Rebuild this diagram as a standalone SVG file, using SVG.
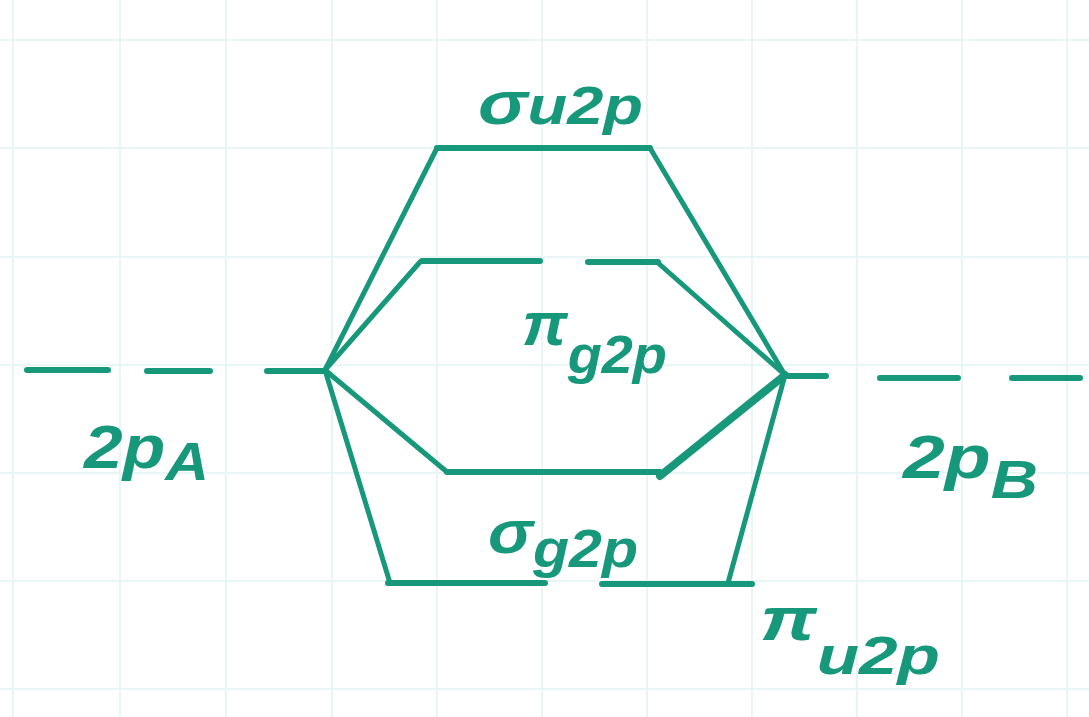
<svg xmlns="http://www.w3.org/2000/svg" width="1089" height="717" viewBox="0 0 1089 717">
<style>
.grid{stroke:#e4f3f4;stroke-width:1.5;fill:none}
.lvl{stroke:#17987a;stroke-width:6;stroke-linecap:round;fill:none}
.con{stroke:#17987a;stroke-width:5;stroke-linecap:round;fill:none}
.lbl{font-family:"Liberation Sans",Arial,sans-serif;font-style:italic;font-weight:bold;fill:#17987a;font-size:62px}
.sub{font-size:54px}
</style>
<rect width="1089" height="717" fill="#ffffff"/>
<g id="grid">
<path class="grid" d="M13 0V717M120 0V717M226 0V717M332 0V717M437 0V717M542 0V717M647 0V717M752 0V717M857 0V717M962 0V717M1067 0V717"/>
<path class="grid" d="M0 40H1089M0 148H1089M0 257H1089M0 365H1089M0 473H1089M0 581H1089M0 689H1089"/>
</g>
<g id="connectors">
<line class="con" x1="325" y1="370" x2="437" y2="148"/>
<line class="con" x1="785" y1="375" x2="650" y2="148"/>
<line class="con" x1="325" y1="370" x2="420" y2="262"/>
<line class="con" x1="657" y1="262" x2="785" y2="375"/>
<line class="con" x1="325" y1="370" x2="447" y2="472"/>
<line class="con" x1="660" y1="476" x2="785" y2="375" style="stroke-width:8"/>
<line class="con" x1="325" y1="370" x2="390" y2="583"/>
<line class="con" x1="785" y1="375" x2="728" y2="583"/>
</g>
<g id="ao-A">
<path class="lvl" d="M27 370H108M147 371H210M267 371H325"/>
<text class="lbl" x="84" y="468" textLength="125" lengthAdjust="spacingAndGlyphs">2p<tspan class="sub" dy="12">A</tspan></text>
</g>
<g id="ao-B">
<path class="lvl" d="M785 376H826M880 378H958M1012 378H1080"/>
<text class="lbl" x="903" y="478" textLength="135" lengthAdjust="spacingAndGlyphs">2p<tspan class="sub" dy="20">B</tspan></text>
</g>
<g id="sigma-u">
<path class="lvl" d="M437 148H650"/>
<text class="lbl" x="478" y="124" textLength="165" lengthAdjust="spacingAndGlyphs">σ<tspan class="sub">u2p</tspan></text>
</g>
<g id="pi-g">
<path class="lvl" d="M422 261H540M588 262H658"/>
<text class="lbl" x="522" y="345" textLength="145" lengthAdjust="spacingAndGlyphs">π<tspan class="sub" dy="28">g2p</tspan></text>
</g>
<g id="sigma-g">
<path class="lvl" d="M447 472H660"/>
<text class="lbl" x="488" y="553" textLength="150" lengthAdjust="spacingAndGlyphs">σ<tspan class="sub" dy="14">g2p</tspan></text>
</g>
<g id="pi-u">
<path class="lvl" d="M388 583H545M602 584H752"/>
<text class="lbl" x="760" y="640" textLength="180" lengthAdjust="spacingAndGlyphs">π<tspan class="sub" dy="34">u2p</tspan></text>
</g>
</svg>
